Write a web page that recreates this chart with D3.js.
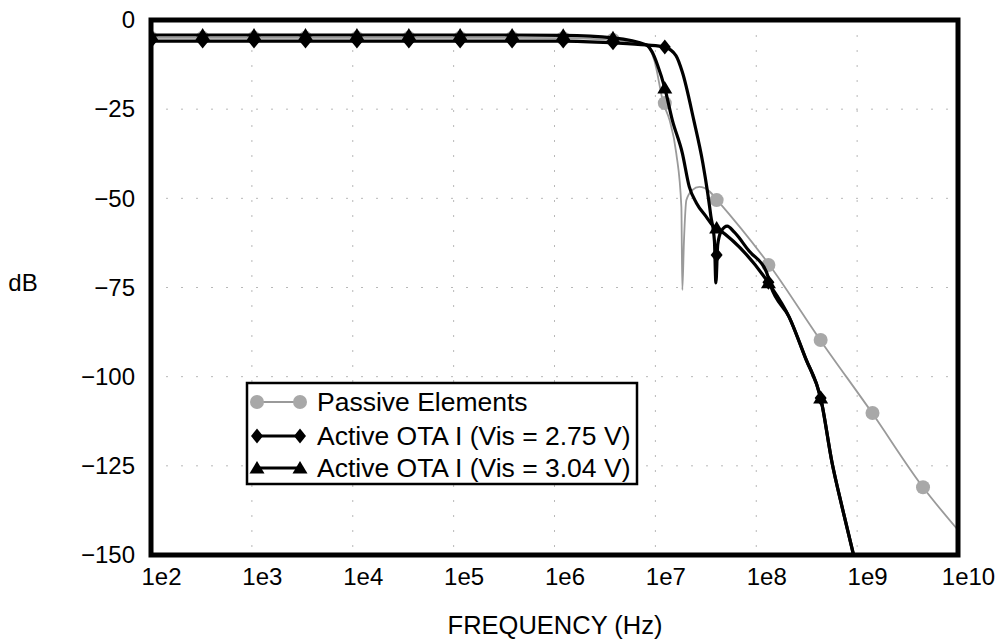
<!DOCTYPE html>
<meta charset="utf-8">
<script src="https://d3js.org/d3.v7.min.js"></script>
<style>
  body { margin: 0; background: #fff; }
  text { font-family: "Liberation Sans", Arial, Helvetica, sans-serif; fill: #000; }
</style>
<body>
<div id="chart"></div>
<script>
// axis ticks
const xTicks = [1e2, 1e3, 1e4, 1e5, 1e6, 1e7, 1e8, 1e9, 1e10];
const xTickLabels = ["1e2", "1e3", "1e4", "1e5", "1e6", "1e7", "1e8", "1e9", "1e10"];
const yTicks = [0, -25, -50, -75, -100, -125, -150];
const yTickLabels = ["0", "\u221225", "\u221250", "\u221275", "\u2212100", "\u2212125", "\u2212150"];

// frequencies where the markers sit (Hz)
const markerFreq = [100, 325, 1050, 3400, 1.1e4, 3.6e4, 1.16e5, 3.8e5, 1.22e6, 3.8e6,
                    1.24e7, 4.05e7, 1.32e8, 4.35e8, 1.42e9, 4.5e9];
// marker values (dB)
const passiveMarkers = [-5.0, -5.0, -5.0, -5.0, -5.0, -5.0, -5.0, -5.0, -5.1, -5.6,
                        -23.3, -50.5, -68.7, -89.7, -110.2, -131.0];
const ota275Markers = [-5.9, -5.9, -5.9, -5.9, -5.9, -5.9, -5.9, -5.9, -5.9, -6.4,
                       -7.6, -65.9, -73.5, -106.0, -174.0, null];
const ota304Markers = [-4.2, -4.2, -4.2, -4.2, -4.2, -4.2, -4.2, -4.2, -4.3, -5.0,
                       -19.1, -58.3, -73.7, -106.0, -174.0, null];

// traced curves [Hz, dB]
const passiveCurve = [
  [100, -5.0], [325, -5.0], [1050, -5.0], [3400, -5.0], [1.1e4, -5.0], [3.6e4, -5.0],
  [1.16e5, -5.0], [3.8e5, -5.0], [1.22e6, -5.1], [3.8e6, -5.6], [7.8e6, -6.8],
  [9.8e6, -11.5], [1.2e7, -23.3], [1.38e7, -28.0], [1.61e7, -37.3], [1.81e7, -52.4],
  [1.85e7, -75.7], [1.92e7, -62.0], [2.03e7, -50.5], [2.32e7, -47.7], [2.73e7, -46.8],
  [3.43e7, -48.0], [4.1e7, -50.5], [1.35e8, -68.7], [4.3e8, -89.7], [1.41e9, -110.2],
  [4.5e9, -131.0], [1e10, -143.0]
];
const ota275Curve = [
  [100, -5.9], [325, -5.9], [1050, -5.9], [3400, -5.9], [1.1e4, -5.9], [3.6e4, -5.9],
  [1.16e5, -5.9], [3.8e5, -5.9], [1.22e6, -5.9], [3.8e6, -6.4], [8.15e6, -7.0],
  [1.24e7, -7.6], [1.6e7, -10.0], [1.85e7, -14.6], [2.4e7, -28.0], [2.95e7, -40.0],
  [3.3e7, -48.5], [3.55e7, -55.0], [3.85e7, -62.0], [3.98e7, -73.7], [4.15e7, -63.0],
  [4.5e7, -59.2], [5.16e7, -57.8], [6.06e7, -59.5], [8.5e7, -64.8], [1.26e8, -70.6],
  [1.4e8, -74.8], [2.12e8, -83.3], [3.13e8, -95.3], [4.35e8, -106.0], [5.65e8, -124.2],
  [7.1e8, -136.6], [9.33e8, -150.6], [1.42e9, -174.0]
];
const ota304Curve = [
  [100, -4.2], [325, -4.2], [1050, -4.2], [3400, -4.2], [1.1e4, -4.2], [3.6e4, -4.2],
  [1.16e5, -4.2], [3.8e5, -4.2], [1.22e6, -4.3], [3.8e6, -5.0], [8.15e6, -7.0],
  [9.3e6, -9.0], [1.05e7, -12.6], [1.24e7, -19.1], [1.47e7, -28.0], [1.85e7, -37.3],
  [2.17e7, -46.8], [2.55e7, -51.3], [3.2e7, -55.2], [3.67e7, -57.5], [4.05e7, -58.3],
  [1.32e8, -73.7], [2.12e8, -83.3], [3.13e8, -95.3], [3.93e8, -101.8], [4.35e8, -106.0],
  [5.65e8, -124.2], [7.1e8, -136.6], [9.33e8, -150.6], [1.42e9, -174.0]
];

const legendLabels = ["Passive Elements", "Active OTA I (Vis = 2.75 V)", "Active OTA I (Vis = 3.04 V)"];

const W = 1000, H = 640;
const margin = {top: 20, right: 42, bottom: 85, left: 151};
const width = W - margin.left - margin.right,
      height = H - margin.top - margin.bottom;

const svg = d3.select("#chart").append("svg")
    .attr("width", W).attr("height", H);

const g = svg.append("g")
    .attr("transform", `translate(${margin.left},${margin.top})`);

const x = d3.scaleLog().domain([1e2, 1e10]).range([0, width]);
const y = d3.scaleLinear().domain([-150, 0]).range([height, 0]);

g.append("clipPath").attr("id", "clip")
  .append("rect").attr("width", width).attr("height", height);

// grid
const grid = g.append("g").attr("stroke", "#b8b8b8").attr("stroke-width", 1)
    .attr("stroke-dasharray", "2,13");
grid.selectAll(".gx").data(xTicks.slice(1, -1)).join("line")
    .attr("x1", d => x(d)).attr("x2", d => x(d))
    .attr("y1", 0).attr("y2", height);
grid.selectAll(".gy").data(yTicks.slice(1, -1)).join("line")
    .attr("y1", d => y(d)).attr("y2", d => y(d))
    .attr("x1", 0).attr("x2", width);

// axes (labels only)
const xAxis = g.append("g")
    .attr("transform", `translate(0,${height})`)
    .call(d3.axisBottom(x).tickValues(xTicks).tickFormat((d, i) => xTickLabels[i])
      .tickSize(0).tickPadding(13));
xAxis.select(".domain").remove();
xAxis.selectAll("text").attr("font-size", 24).attr("dx", 10)
    .style("font-family", "Liberation Sans, Arial, sans-serif");

const yAxis = g.append("g")
    .call(d3.axisLeft(y).tickValues(yTicks).tickFormat((d, i) => yTickLabels[i])
      .tickSize(0).tickPadding(16));
yAxis.select(".domain").remove();
yAxis.selectAll("text").attr("font-size", 24)
    .style("font-family", "Liberation Sans, Arial, sans-serif");

svg.append("text").attr("x", 23).attr("y", 291)
    .attr("text-anchor", "middle").attr("font-size", 24).text("dB");
svg.append("text").attr("x", 555).attr("y", 634)
    .attr("text-anchor", "middle").attr("font-size", 25.5).text("FREQUENCY (Hz)");

// marker shapes
const diamondPath = "M0,-7.5L6,0L0,7.5L-6,0Z";
const trianglePath = "M0,-7L7.5,5.5L-7.5,5.5Z";

const line = d3.line()
    .x(d => x(d[0])).y(d => y(d[1]))
    .curve(d3.curveMonotoneX);

const plot = g.append("g").attr("clip-path", "url(#clip)");

plot.append("path").datum(passiveCurve)
    .attr("d", line).attr("fill", "none")
    .attr("stroke", "#9a9a9a").attr("stroke-width", 1.8);
plot.append("g").selectAll("circle")
    .data(markerFreq.map((f, i) => [f, passiveMarkers[i]]).filter(d => d[1] != null))
    .join("circle")
    .attr("cx", d => x(d[0])).attr("cy", d => y(d[1])).attr("r", 7)
    .attr("fill", "#a8a8a8");

plot.append("path").datum(ota275Curve)
    .attr("d", line).attr("fill", "none")
    .attr("stroke", "#000").attr("stroke-width", 3.2);
plot.append("path").datum(ota304Curve)
    .attr("d", line).attr("fill", "none")
    .attr("stroke", "#000").attr("stroke-width", 3.2);

plot.append("g").selectAll("path")
    .data(markerFreq.map((f, i) => [f, ota275Markers[i]]).filter(d => d[1] != null))
    .join("path")
    .attr("d", diamondPath)
    .attr("transform", d => `translate(${x(d[0])},${y(d[1])})`)
    .attr("fill", "#000");
plot.append("g").selectAll("path")
    .data(markerFreq.map((f, i) => [f, ota304Markers[i]]).filter(d => d[1] != null))
    .join("path")
    .attr("d", trianglePath)
    .attr("transform", d => `translate(${x(d[0])},${y(d[1])})`)
    .attr("fill", "#000");

// frame
g.append("rect").attr("width", width).attr("height", height)
    .attr("fill", "none").attr("stroke", "#000").attr("stroke-width", 5);

// legend
const lg = svg.append("g").attr("transform", "translate(247,383)");
lg.append("rect").attr("width", 390).attr("height", 101)
    .attr("fill", "#fff").attr("stroke", "#000").attr("stroke-width", 2.5);
const rows = [19, 53, 85];
legendLabels.forEach((label, i) => {
  const r = lg.append("g").attr("transform", `translate(0,${rows[i]})`);
  r.append("line").attr("x1", 10).attr("x2", 53)
      .attr("stroke", i === 0 ? "#9a9a9a" : "#000")
      .attr("stroke-width", i === 0 ? 1.8 : 3.2);
  [10, 53].forEach(cx => {
    if (i === 0) r.append("circle").attr("cx", cx).attr("r", 7).attr("fill", "#a8a8a8");
    else r.append("path").attr("d", i === 1 ? diamondPath : trianglePath)
        .attr("transform", `translate(${cx},0)`).attr("fill", "#000");
  });
  r.append("text").attr("x", 70).attr("y", 0).attr("dy", "0.35em")
      .attr("font-size", 26.5).text(label);
});
</script>
</body>
